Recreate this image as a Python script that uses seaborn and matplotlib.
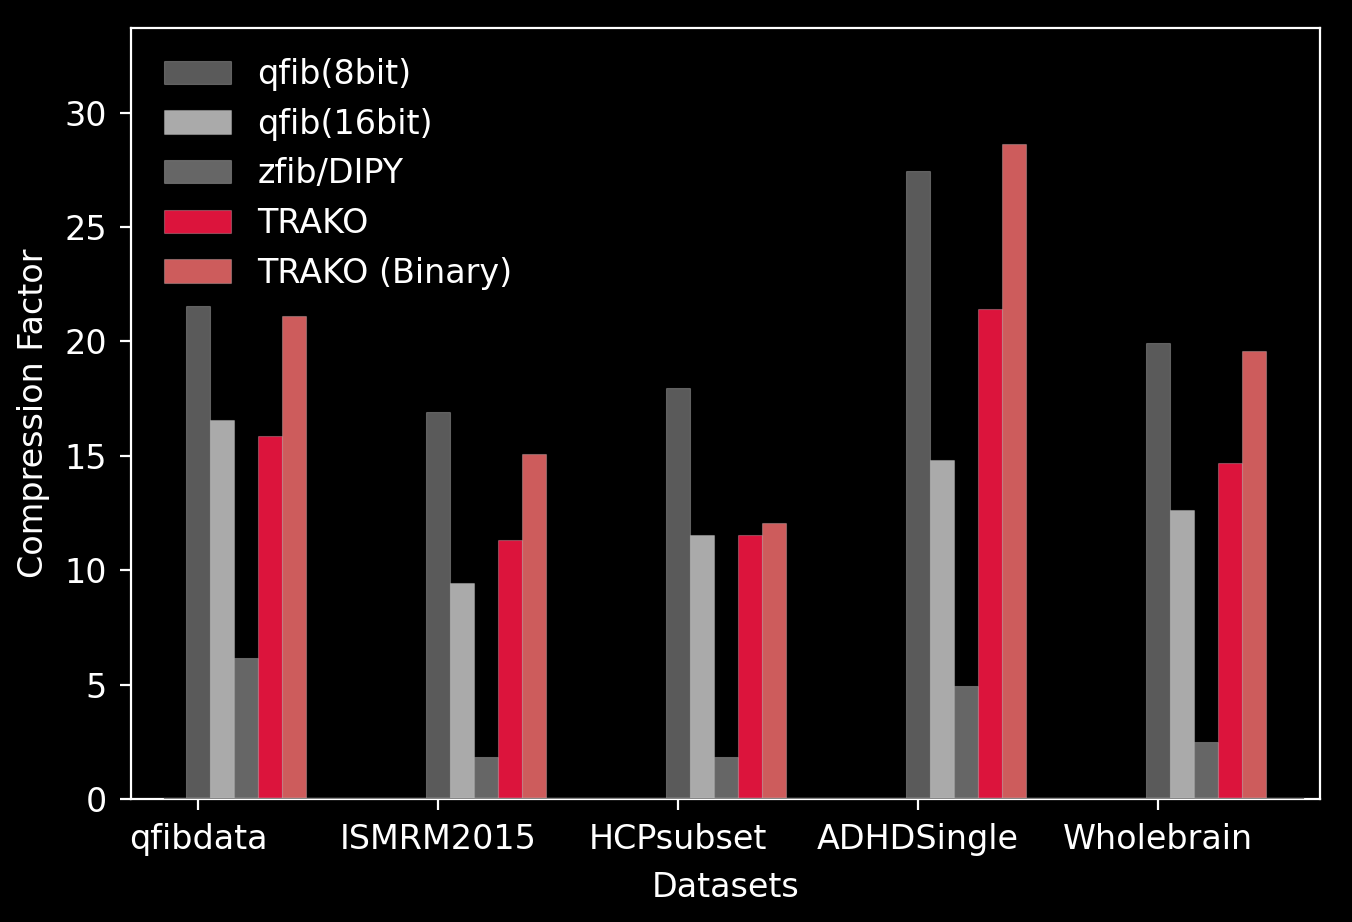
import matplotlib
matplotlib.use("Agg")
import matplotlib.pyplot as plt
import seaborn as sns
import pandas as pd
import numpy as np

datasets = ["qfibdata", "ISMRM2015", "HCPsubset", "ADHDSingle", "Wholebrain"]
methods = ["qfib(8bit)", "qfib(16bit)", "zfib/DIPY", "TRAKO", "TRAKO (Binary)"]
qfib8 = [21.55, 16.9, 17.95, 27.45, 19.95]
qfib16 = [16.55, 9.45, 11.55, 14.8, 12.65]
zfib = [6.15, 1.85, 1.85, 4.95, 2.5]
trako = [15.85, 11.3, 11.55, 21.42, 14.7]
trako_bin = [21.12, 15.1, 12.05, 28.65, 19.6]
colors = ["#5a5a5a", "#aaaaaa", "#666666", "#dc143c", "#cd5c5c"]

series = [qfib8, qfib16, zfib, trako, trako_bin]
rows = []
for k, (m, vals) in enumerate(zip(methods, series)):
    for i, (d, v) in enumerate(zip(datasets, vals)):
        rows.append({"Dataset": d, "Method": m, "pos": round(i + k * 0.1, 3), "value": v})
df = pd.DataFrame(rows)

plt.style.use("dark_background")
plt.rcParams["font.family"] = ["DejaVu Sans"]
plt.rcParams["font.size"] = 24

fig = plt.figure(figsize=(13.52, 9.22), dpi=100)
ax = fig.add_axes([131 / 1352, 1 - 799 / 922, (1320 - 131) / 1352, (799 - 28) / 922])

sns.barplot(data=df, x="pos", y="value", hue="Method", hue_order=methods,
            palette=colors, native_scale=True, dodge=False, width=1.0,
            edgecolor=(1, 1, 1, 0.25), linewidth=0.8, saturation=1, ax=ax, errorbar=None)

ax.axhline(0, xmin=0.029, xmax=0.986, color="#888888", lw=1.6, zorder=5)

ax.set_xticks(range(len(datasets)))
ax.set_xticklabels(datasets, fontsize=24)
ax.set_xlim(-0.28, 4.675)
ax.set_ylim(0, 33.7)
ax.set_yticks([0, 5, 10, 15, 20, 25, 30])
ax.tick_params(labelsize=24, length=8, width=1.6, pad=9.5)
for s in ax.spines.values():
    s.set_linewidth(1.6)
ax.set_xlabel("Datasets", fontsize=24, labelpad=10.5)
ax.set_ylabel("Compression Factor", fontsize=24, labelpad=10)

ax.legend(loc="upper left", frameon=False, fontsize=24,
          bbox_to_anchor=(0.0025, 1.0))

fig.savefig("out.png", dpi=100, facecolor="black")
